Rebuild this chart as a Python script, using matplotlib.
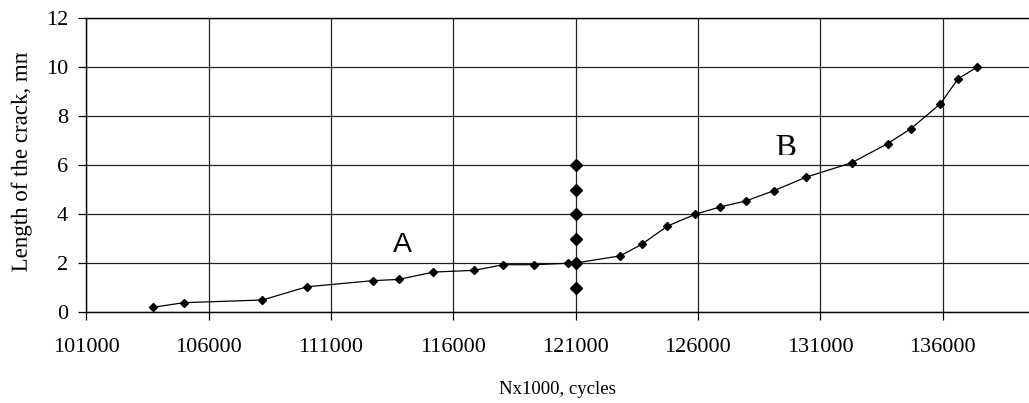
import matplotlib
matplotlib.use("Agg")
import matplotlib.pyplot as plt
from matplotlib.transforms import Bbox, Affine2D
from matplotlib.textpath import TextPath
from matplotlib.patches import PathPatch
from matplotlib.font_manager import FontProperties

# crack growth curve (A then B)
cycles = [103720, 104980, 108200, 110020, 112730, 113770, 115190, 116850,
          118050, 119290, 120700, 121000, 122820, 123730, 124740, 125890,
          126910, 127950, 129100, 130410, 132280, 133750, 134700, 135910,
          136630, 137420]
crack = [0.19, 0.38, 0.49, 1.03, 1.28, 1.33, 1.63, 1.70,
         1.93, 1.93, 1.99, 2.0, 2.29, 2.78, 3.50, 3.99,
         4.29, 4.53, 4.95, 5.50, 6.09, 6.87, 7.48, 8.50,
         9.52, 10.0]

# vertical marker column
col_x = [121000, 121000, 121000, 121000, 121000, 121000]
col_y = [1, 2, 3, 4, 5, 6]

xticks = [101000, 106000, 111000, 116000, 121000, 126000, 131000, 136000]
yticks = [0, 2, 4, 6, 8, 10, 12]

plt.rcParams['font.family'] = ['Liberation Serif', 'DejaVu Serif']

W, H = 1029, 403
fig = plt.figure(figsize=(W / 100, H / 100), dpi=100)
ax = fig.add_axes([86.3 / W, (H - 312) / H, 1 - 86.3 / W, 294 / H])

ax.plot(cycles, crack, color='black', lw=0.9, marker='D', ms=4.2, zorder=3)
ax.plot(col_x, col_y, color='black', lw=0, marker='D', ms=6.5, zorder=4)

ax.set_xlim(101000, 139530)
ax.set_ylim(0, 12)
ax.set_xticks(xticks)
ax.set_yticks(yticks)
ax.set_xticklabels([str(v) for v in xticks])
ax.grid(True, color='#222222', lw=0.9)
ax.set_axisbelow(True)
ax.spines['right'].set_visible(False)
for s in ['left', 'bottom', 'top']:
    ax.spines[s].set_linewidth(1.0)
ax.tick_params(axis='both', direction='out', length=6, width=0.9,
               labelsize=16, colors='black')
ax.tick_params(axis='x', pad=13)
ax.tick_params(axis='y', pad=7)

ax.set_xlabel('Nx1000, cycles', fontsize=13.5, labelpad=17)


def clipped_text(s, x, y, size, family, rot, clip, center=False):
    # text drawn as a path so that the clip box cuts it like in the original
    tp = TextPath((0, 0), s, size=size, prop=FontProperties(family=family))
    k = fig.dpi / 72
    dx = -tp.get_extents().x0 * k
    if center:
        dx = -(tp.get_extents().x0 + tp.get_extents().width / 2) * k
    tr = Affine2D().translate(dx / k, 0).scale(k).rotate_deg(rot).translate(x, y)
    p = PathPatch(tp, transform=tr, facecolor='black', lw=0)
    fig.add_artist(p)
    p.set_clip_box(clip)
    return p


# y label, cut at the top as in the source image
clipped_text('Length of the crack, mm', 26.7, H - 271.7, 16.5,
             'Liberation Serif', 90, Bbox.from_extents(0, 0, 80, H - 53))

ax.text(113940, 2.46, 'A', fontsize=20.5, family='Liberation Sans',
        ha='center', va='baseline')

bx, by = ax.transData.transform((129600, 6.37))
clipped_text('B', bx, by, 23, 'Liberation Serif', 0,
             Bbox.from_extents(0, H - 154.5, W, H), center=True)

fig.savefig('out.png', dpi=100)
